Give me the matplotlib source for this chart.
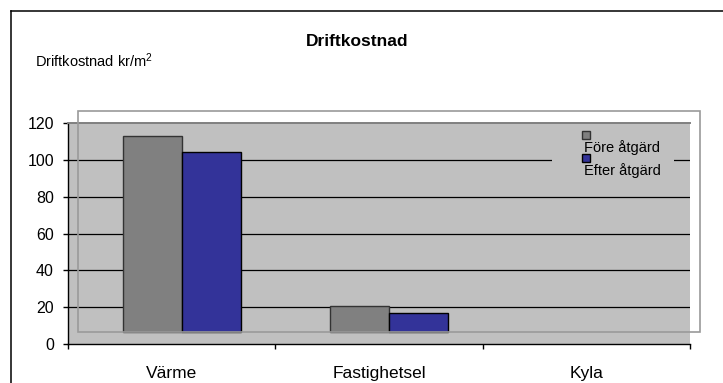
import numpy as np
import matplotlib
matplotlib.use("Agg")
import matplotlib.pyplot as plt
from matplotlib.patches import Rectangle
from matplotlib.transforms import ScaledTranslation

plt.rcParams['font.family'] = ['Liberation Sans', 'DejaVu Sans']
plt.rcParams['mathtext.fontset'] = 'custom'
plt.rcParams['mathtext.rm'] = 'Liberation Sans'
plt.rcParams['mathtext.it'] = 'Liberation Sans'

# Data
categories = ['Värme', 'Fastighetsel', 'Kyla']
fore_atgard = [112.8, 20.6, 0.0]
efter_atgard = [104.3, 16.8, 0.0]
series_names = ['Före åtgärd', 'Efter åtgärd']
yticks = [0, 20, 40, 60, 80, 100, 120]

W, H, DPI = 723, 383, 100
fig = plt.figure(figsize=(W / DPI, H / DPI), dpi=DPI)


def fx(px):
    return px / W


def fy(py):
    return 1 - py / H


# Outer chart frame (only top and left edges fall inside the image)
fig.add_artist(plt.Line2D([fx(11), fx(11)], [fy(10.5), 0], color='black', lw=1.1))
fig.add_artist(plt.Line2D([fx(11), 1], [fy(10.5), fy(10.5)], color='black', lw=1.1))

ax_left, ax_right, ax_top, ax_bottom = 68, 690, 122.7, 344.3
ax = fig.add_axes([fx(ax_left), fy(ax_bottom), (ax_right - ax_left) / W,
                   (ax_bottom - ax_top) / H])
ax.set_facecolor('#C0C0C0')
ax.set_xlim(-0.5, len(categories) - 0.5)
ax.set_ylim(0, 120)

# Plot area is displaced by a few pixels relative to the value axis
shift_px = (10, 12)
x_shift = shift_px[0] * len(categories) / (ax_right - ax_left)
base = shift_px[1] * 120 / (ax_bottom - ax_top)

# Gridlines
for v in yticks[1:-1]:
    ax.axhline(v, color='black', lw=0.9, zorder=0.5)

# Bars
x = np.arange(len(categories))
bw = 0.285
colors = ['#808080', '#333399']
edges = ['#333333', '#000000']
for i, vals in enumerate([fore_atgard, efter_atgard]):
    xs = x + x_shift + (i - 0.5) * bw
    for xi, v in zip(xs, vals):
        if v > base:
            ax.bar(xi, v - base, bottom=base, width=bw, color=colors[i],
                   edgecolor=edges[i], lw=1, zorder=2)

# Displaced plot-area border
offset = ScaledTranslation(shift_px[0] / DPI, shift_px[1] / DPI, fig.dpi_scale_trans)
ax.add_patch(Rectangle((0, 0), 1, 1, transform=ax.transAxes + offset, fill=False,
                       edgecolor='#9a9a9a', lw=1.2, clip_on=False, zorder=3))

# Spines
ax.spines['right'].set_visible(False)
ax.spines['top'].set_color('#808080')
ax.spines['top'].set_linewidth(1.4)
ax.spines['left'].set_color('black')
ax.spines['bottom'].set_color('black')
ax.spines['left'].set_linewidth(1)
ax.spines['bottom'].set_linewidth(1)

# Ticks
ax.set_yticks(yticks)
ax.tick_params(axis='y', length=3.6, width=1, pad=6.5, labelsize=11.5)
ax.set_xticks(np.arange(len(categories) + 1) - 0.5)
ax.set_xticklabels([])
ax.tick_params(axis='x', which='major', length=3.6, width=1)
ax.set_xticks(x, minor=True)
ax.set_xticklabels(categories, minor=True)
ax.tick_params(axis='x', which='minor', length=0, pad=15.5, labelsize=12.5)

# Titles
fig.text(fx(357.5), fy(42), 'Driftkostnad', ha='center', va='center',
         fontsize=12.5, fontweight='bold')
fig.text(fx(35), fy(61), 'Driftkostnad kr/m$^2$', ha='left', va='center', fontsize=10.5)

# Legend
fig.add_artist(Rectangle((fx(552), fy(184)), (674 - 552) / W, (184 - 127) / H,
                         transform=fig.transFigure, facecolor='#C0C0C0',
                         edgecolor='none', zorder=4))
leg_rows = [(131.5, 147.5), (154.5, 171)]
for (sq_y, txt_y), name, c, e in zip(leg_rows, series_names, colors, edges):
    fig.add_artist(Rectangle((fx(582), fy(sq_y + 7.5)), 8 / W, 7.5 / H,
                             transform=fig.transFigure, facecolor=c,
                             edgecolor=e, lw=1, zorder=5))
    fig.text(fx(584.5), fy(txt_y), name, ha='left', va='center', fontsize=10.5,
             zorder=6)

fig.savefig('out.png', dpi=DPI)
